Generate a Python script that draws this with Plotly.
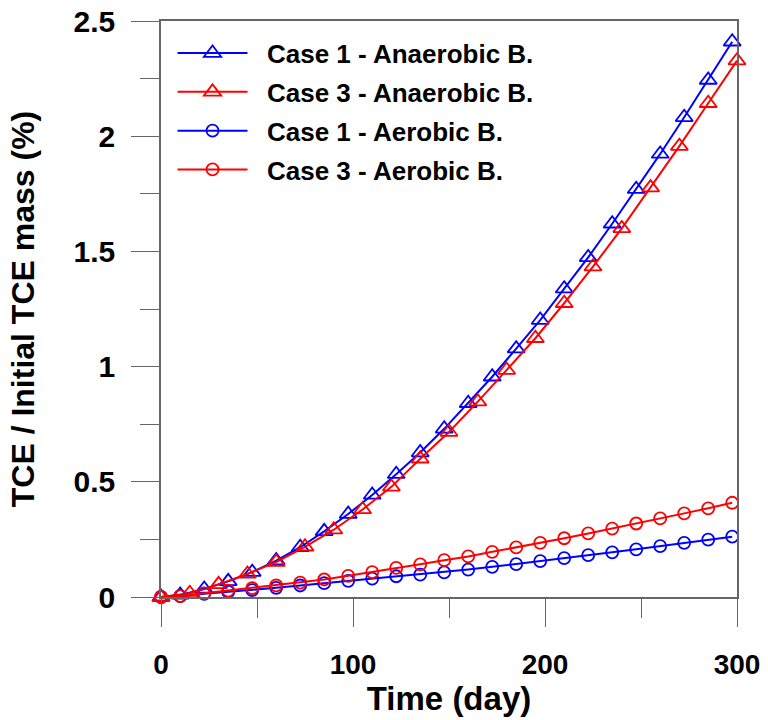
import plotly.graph_objects as go

# -------------------------------------------------
# data
# -------------------------------------------------

# time (day) for the Case 1 series and for the aerobic Case 3 series
days_a = [0, 10, 22.5, 35, 47.5, 60, 72.5, 85, 97.5, 110, 122.5, 135, 147.5,
          160, 172.5, 185, 197.5, 210, 222.5, 235, 247.5, 260, 272.5, 285, 297.5]

# time (day) for the anaerobic Case 3 series
days_b = [0, 15, 30, 45, 60, 75, 90, 105, 120, 135, 150, 165, 180, 195,
          210, 225, 240, 255, 270, 285, 300]

case1_anaerobic = [0, 0.009, 0.035, 0.068, 0.108, 0.158, 0.216, 0.285, 0.360,
                   0.443, 0.533, 0.627, 0.730, 0.841, 0.956, 1.078, 1.202,
                   1.338, 1.474, 1.620, 1.770, 1.923, 2.082, 2.244, 2.410]

case3_anaerobic = [0, 0.016, 0.055, 0.100, 0.152, 0.218, 0.292, 0.380, 0.478,
                   0.600, 0.716, 0.848, 0.985, 1.123, 1.275, 1.434, 1.600,
                   1.777, 1.957, 2.143, 2.328]

case1_aerobic = [0, 0.004, 0.014, 0.022, 0.030, 0.040, 0.050, 0.060, 0.070,
                 0.080, 0.090, 0.097, 0.107, 0.119, 0.131, 0.143, 0.156,
                 0.169, 0.182, 0.194, 0.207, 0.221, 0.235, 0.249, 0.262]

case3_aerobic = [0, 0.004, 0.016, 0.028, 0.038, 0.050, 0.062, 0.076, 0.092,
                 0.108, 0.126, 0.142, 0.160, 0.176, 0.196, 0.215, 0.235,
                 0.255, 0.276, 0.297, 0.319, 0.341, 0.363, 0.385, 0.409]

x_ticks = [0, 100, 200, 300]
y_ticks = [0, 0.5, 1, 1.5, 2, 2.5]
y_tick_labels = ["0", "0.5", "1", "1.5", "2", "2.5"]

FONT = "Liberation Sans, Arial, sans-serif"
BLUE = "#0000ff"
RED = "#ff0000"
AXIS_GREY = "#666666"
PAD = "\u00a0\u00a0"  # a little extra room between legend symbol and text


def add_series(fig, x, y, name, color, symbol, size):
    fig.add_trace(go.Scatter(
        x=x, y=y, name=PAD + name, legendgroup=name,
        mode="lines+markers",
        line=dict(color=color, width=2),
        marker=dict(symbol=symbol, size=size, color=color,
                    line=dict(color=color, width=1.8)),
        cliponaxis=False,
    ))


fig = go.Figure()
add_series(fig, days_a, case1_anaerobic, "Case 1 - Anaerobic B.", BLUE, "triangle-up-open", 15)
add_series(fig, days_b, case3_anaerobic, "Case 3 - Anaerobic B.", RED, "triangle-up-open", 15)
add_series(fig, days_a, case1_aerobic, "Case 1 - Aerobic B.", BLUE, "circle-open", 12)
add_series(fig, days_a, case3_aerobic, "Case 3 - Aerobic B.", RED, "circle-open", 12)

fig.update_layout(
    width=768, height=720,
    margin=dict(l=161, r=31, t=21, b=123),
    paper_bgcolor="white",
    plot_bgcolor="white",
    font=dict(family=FONT, color="black"),
    showlegend=True,
    legend=dict(
        x=0.02, y=0.985, xanchor="left", yanchor="top",
        font=dict(family=FONT, size=26, color="black", weight="bold"),
        bgcolor="rgba(0,0,0,0)",
        itemwidth=70,
        tracegroupgap=2,
    ),
    xaxis=dict(
        range=[0, 300], automargin=False,
        tickmode="array", tickvals=x_ticks,
        ticks="outside", ticklen=28, tickwidth=1.2, tickcolor=AXIS_GREY,
        minor=dict(dtick=50, tick0=0, ticks="outside", ticklen=19, tickwidth=1.2, tickcolor=AXIS_GREY),
        showline=True, linecolor=AXIS_GREY, linewidth=1.5, mirror=True,
        showgrid=False, zeroline=False,
        tickfont=dict(family=FONT, size=28, weight="bold"),
        ticklabelstandoff=14, ticklabeloverflow="allow",
        title=dict(text="Time (day)", font=dict(family=FONT, size=33, weight="bold"), standoff=0),
    ),
    yaxis=dict(
        range=[0, 2.5], automargin=False,
        tickmode="array", tickvals=y_ticks, ticktext=y_tick_labels,
        ticks="outside", ticklen=28, tickwidth=1.2, tickcolor=AXIS_GREY,
        minor=dict(dtick=0.25, tick0=0, ticks="outside", ticklen=19, tickwidth=1.2, tickcolor=AXIS_GREY),
        showline=True, linecolor=AXIS_GREY, linewidth=1.5, mirror=True,
        showgrid=False, zeroline=False,
        tickfont=dict(family=FONT, size=30, weight="bold"),
        ticklabelstandoff=10, ticklabeloverflow="allow",
        title=dict(text="TCE / Initial TCE mass (%)", font=dict(family=FONT, size=32, weight="bold"), standoff=29),
    ),
)

# drop the page's default body margin so the figure fills the window
fig.write_html(
    "out.html",
    config={"displayModeBar": False},
    post_script="document.body.style.margin = '0';",
)
